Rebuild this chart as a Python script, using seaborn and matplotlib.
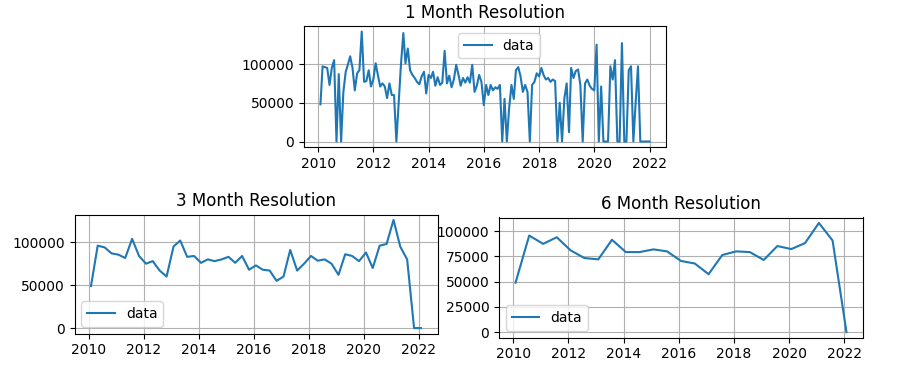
import pandas as pd
import matplotlib
matplotlib.use("Agg")
import matplotlib.pyplot as plt
import seaborn as sns

# monthly values, Jan 2010 .. Dec 2021
monthly_vals = [
    48000, 97000, 96000, 95000, 73000, 95000, 105000, 0, 87000, 0, 64000, 90000,
    100000, 110000, 95000, 66000, 88000, 92000, 142000, 77000, 78000, 92000, 71000, 80000,
    101000, 86000, 71000, 75000, 71000, 56000, 75000, 60000, 60000, 0, 50000, 100000,
    140000, 101000, 120000, 92000, 86000, 82000, 77000, 74000, 84000, 90000, 62000, 86000,
    82000, 90000, 72000, 83000, 73000, 76000, 117000, 75000, 85000, 70000, 80000, 99000,
    86000, 72000, 82000, 76000, 83000, 76000, 99000, 64000, 72000, 86000, 77000, 47000,
    73000, 60000, 73000, 66000, 70000, 68000, 73000, 0, 55000, 0, 43000, 73000,
    55000, 92000, 96000, 84000, 64000, 73000, 64000, 0, 73000, 77000, 88000, 84000,
    95000, 86000, 80000, 82000, 77000, 80000, 78000, 0, 50000, 0, 55000, 75000,
    12000, 95000, 82000, 91000, 93000, 73000, 0, 75000, 80000, 72000, 68000, 66000,
    125000, 0, 71000, 0, 0, 0, 97000, 80000, 105000, 0, 0, 127000,
    0, 0, 92000, 97000, 0, 50000, 97000, 0, 0, 0, 0, 0,
]

# 3 month values, Jan 2010 .. Jan 2022
quarter_vals = [
    49000, 96000, 94000, 87000, 85500, 81600, 104000, 84000, 75000, 78000,
    67000, 60000, 95000, 102000, 83000, 84000, 76000, 80000, 78000, 80000,
    83000, 76000, 84000, 68000, 73000, 68000, 67000, 55000, 60000, 91000,
    67000, 75000, 84000, 78500, 80000, 75000, 62000, 86000, 84000, 78000,
    88000, 70000, 96000, 98000, 126000, 95000, 80000, 0, 0,
]

# 6 month values, Jan 2010 .. Jan 2022
half_vals = [
    49000, 95700, 87500, 94000, 81000, 73400, 72100, 91500, 79300, 79300,
    82000, 80000, 70500, 68000, 57400, 76400, 80000, 79300, 71500, 85300,
    82300, 88200, 108200, 90800, 0,
]
half_yticks = [0, 25000, 50000, 75000, 100000]

monthly_dates = pd.date_range("2010-01-31", periods=len(monthly_vals), freq="ME")
quarter_dates = pd.date_range("2010-01-31", periods=len(quarter_vals), freq="3ME")
half_dates = pd.date_range("2010-01-31", periods=len(half_vals), freq="6ME")

W, H = 921, 382
fig = plt.figure(figsize=(W / 100, H / 100), dpi=100)
ax1 = fig.add_axes([304 / W, 1 - 147 / H, 362 / W, 121 / H])
ax2 = fig.add_axes([74.5 / W, 1 - 333.5 / H, 363 / W, 119 / H])
ax3 = fig.add_axes([499 / W, 1 - 337.5 / H, 364 / W, 120 / H])

color = "#1f77b4"
sns.lineplot(x=monthly_dates, y=monthly_vals, ax=ax1, color=color, label="data")
sns.lineplot(x=quarter_dates, y=quarter_vals, ax=ax2, color=color, label="data")
sns.lineplot(x=half_dates, y=half_vals, ax=ax3, color=color, label="data")

ax1.set_title("1 Month Resolution")
ax2.set_title("3 Month Resolution")
ax3.set_title("6 Month Resolution")

ax1.legend(loc="upper center", bbox_to_anchor=(0.539, 1.0))
ax2.legend(loc="lower left")
ax3.legend(loc="lower left")
ax3.set_yticks(half_yticks)

for ax in (ax1, ax2, ax3):
    ax.grid(True)
    ax.set_xlabel("")
    ax.set_ylabel("")

fig.savefig("out.png", dpi=100)
